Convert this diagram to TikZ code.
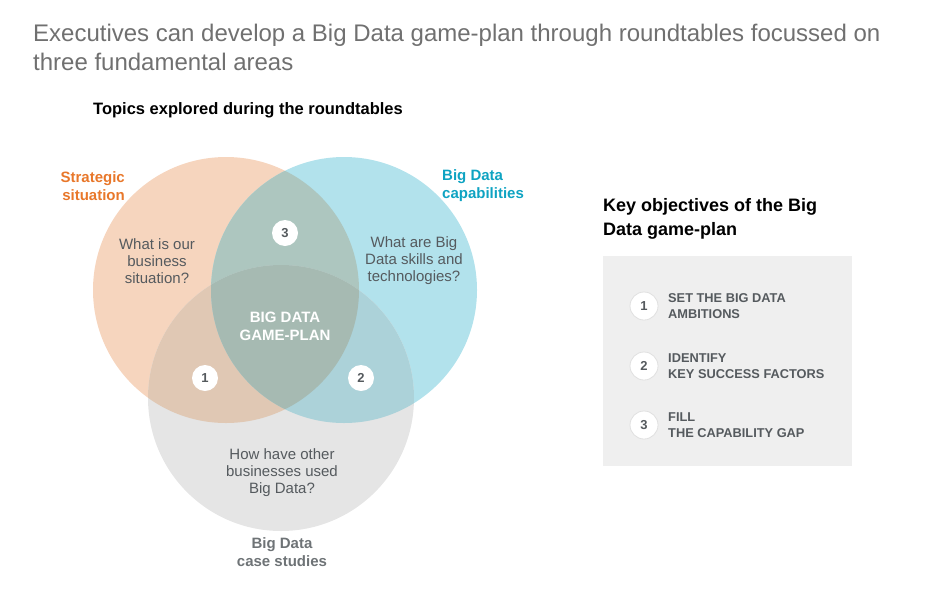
\documentclass[tikz,border=0pt]{standalone}
\usepackage{fontspec}
\setmainfont{Liberation Sans}
\definecolor{orC}{HTML}{F6D5BE}
\definecolor{blC}{HTML}{B2E2EC}
\definecolor{grC}{HTML}{E5E5E5}
\definecolor{obC}{HTML}{ADC6BF}
\definecolor{ogC}{HTML}{E0C8B4}
\definecolor{bgC}{HTML}{ACD2D9}
\definecolor{allC}{HTML}{A6BAB2}
\definecolor{orText}{HTML}{E8772A}
\definecolor{blText}{HTML}{0EA3C2}
\definecolor{bodyText}{HTML}{555A5E}
\definecolor{titleText}{HTML}{707070}
\definecolor{boxC}{HTML}{EFEFEF}
\tikzset{
  body/.style={inner sep=0pt, align=center, text=bodyText, font=\fontsize{15}{17}\selectfont},
  setlabel/.style={inner sep=0pt, font=\fontsize{15}{18}\selectfont\bfseries},
  numdot/.style={circle, fill=white, minimum size=26pt, inner sep=0pt, text=bodyText, font=\fontsize{13}{13}\selectfont\bfseries},
  keydot/.style={circle, fill=white, draw=black!12, line width=0.8pt, minimum size=28pt, inner sep=0pt, text=bodyText, font=\fontsize{13}{13}\selectfont\bfseries},
  keytext/.style={inner sep=0pt, anchor=west, align=left, text=bodyText, font=\fontsize{12.8}{16}\selectfont\bfseries},
}
\begin{document}
\begin{tikzpicture}[x=1pt,y=-1pt]
\useasboundingbox (0,0) rectangle (950,600);
% circles
\coordinate (O) at (226,290);
\coordinate (B) at (344,290);
\coordinate (G) at (281,398);
\def\R{133pt}
\fill[orC] (O) circle[radius=\R];
\fill[blC] (B) circle[radius=\R];
\fill[grC] (G) circle[radius=\R];
\begin{scope}\clip (O) circle[radius=\R]; \fill[obC] (B) circle[radius=\R];\end{scope}
\begin{scope}\clip (O) circle[radius=\R]; \fill[ogC] (G) circle[radius=\R];\end{scope}
\begin{scope}\clip (B) circle[radius=\R]; \fill[bgC] (G) circle[radius=\R];\end{scope}
\begin{scope}\clip (O) circle[radius=\R]; \clip (B) circle[radius=\R]; \fill[allC] (G) circle[radius=\R];\end{scope}

% title
\node[inner sep=0pt, anchor=west, align=left, text=titleText, font=\fontsize{24}{29}\selectfont] (title) at (33,47.5)
  {Executives can develop a Big Data game-plan through roundtables focussed on\\three fundamental areas};
\node[inner sep=0pt, anchor=west, font=\fontsize{16.5}{20}\selectfont\bfseries] (topics) at (93,110) {Topics explored during the roundtables};

% set labels
\node[setlabel, text=orText, align=right, anchor=east] (strat) at (125,186) {Strategic\\situation};
\node[setlabel, text=blText, align=left, anchor=west] (cap) at (442,186) {Big Data\\capabilities};
\node[setlabel, text=bodyText!85, align=center] (cases) at (282,552) {Big Data\\case studies};

% body texts
\node[body] (q1) at (157,261) {What is our\\business\\situation?};
\node[body] (q2) at (414,261) {What are Big\\Data skills and\\technologies?};
\node[body] (q3) at (282,473) {How have other\\businesses used\\Big Data?};
\node[inner sep=0pt, align=center, text=white, font=\fontsize{15}{18}\selectfont\bfseries] (plan) at (285,326) {BIG DATA\\GAME-PLAN};

% number dots
\node[numdot] (n3) at (285,233) {3};
\node[numdot] (n1) at (205,378) {1};
\node[numdot] (n2) at (361,378) {2};

% key objectives
\node[inner sep=0pt, anchor=west, align=left, font=\fontsize{18}{24}\selectfont\bfseries] (keyhead) at (603,219) {Key objectives of the Big\\Data game-plan};
\fill[boxC] (603,256) rectangle (852,466);
\node[keydot] (k1) at (644,306) {1};
\node[keydot] (k2) at (644,366) {2};
\node[keydot] (k3) at (644,425) {3};
\node[keytext] (t1) at (668,306) {SET THE BIG DATA\\AMBITIONS};
\node[keytext] (t2) at (668,366) {IDENTIFY\\KEY SUCCESS FACTORS};
\node[keytext] (t3) at (668,425) {FILL\\THE CAPABILITY GAP};
\end{tikzpicture}
\end{document}
